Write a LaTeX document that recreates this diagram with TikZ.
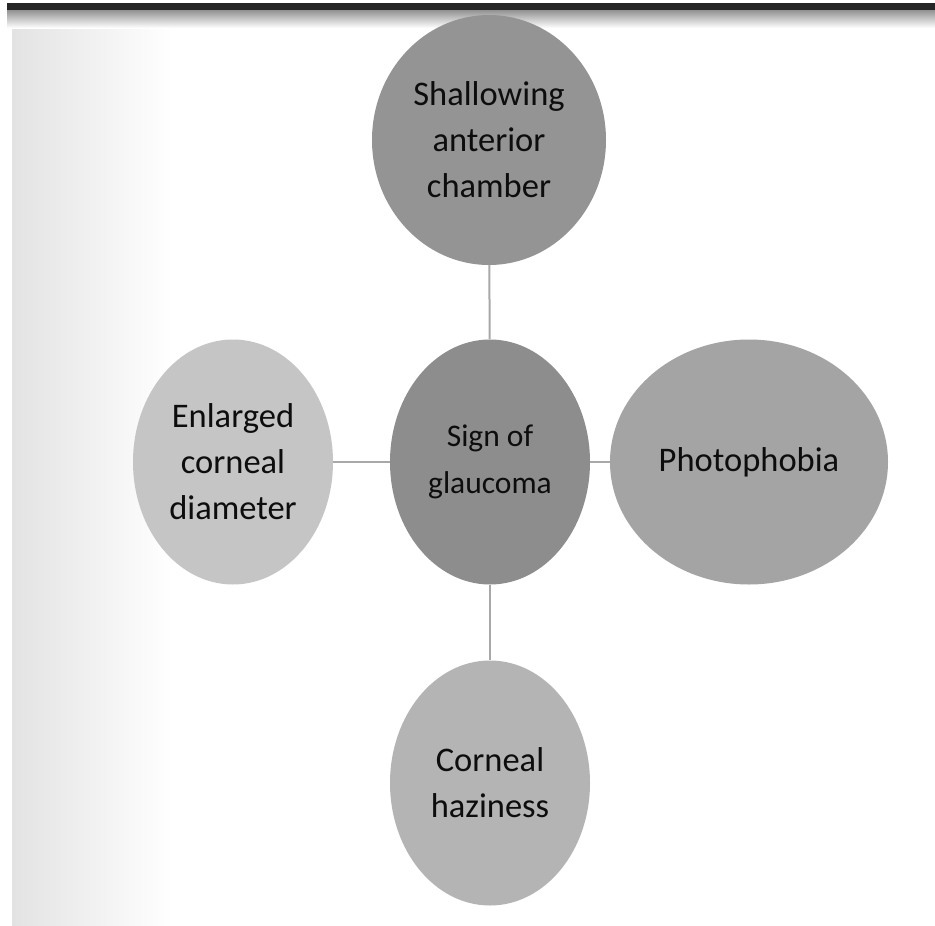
\documentclass[tikz,border=0pt]{standalone}
\usepackage{fontspec}
\setmainfont{Carlito}
\usetikzlibrary{shapes.geometric}

\definecolor{topgray}{HTML}{949494}
\definecolor{midgray}{HTML}{8D8D8D}
\definecolor{leftgray}{HTML}{C5C5C5}
\definecolor{rightgray}{HTML}{A4A4A4}
\definecolor{botgray}{HTML}{B4B4B4}
\definecolor{linkgray}{HTML}{A8A8A8}

\tikzset{
  sign/.style={ellipse, inner sep=0pt, align=center, text=black!95,
    font=\fontsize{34.5}{46}\selectfont, minimum width=200pt, minimum height=245pt},
  link/.style={linkgray, line width=2pt}
}

\begin{document}
\begin{tikzpicture}[x=1pt, y=-1pt]

\useasboundingbox (0,0) rectangle (935,926);
\fill[white] (0,0) rectangle (935,926);
\shade[left color=black!11, right color=white] (12,22) rectangle (172,926);
\shade[top color=black!45, bottom color=white] (7,9) rectangle (935,28);
\fill[black!85] (7,3) rectangle (935,9.5);

\node[sign, fill=topgray, minimum width=234pt, minimum height=250pt] (shallow) at (489,140) {Shallowing\\anterior\\chamber};
\node[sign, fill=midgray, font=\fontsize{31.5}{47}\selectfont] (glaucoma) at (490,462) {Sign of\\glaucoma};
\node[sign, fill=leftgray] (enlarged) at (233,462) {Enlarged\\corneal\\diameter};
\node[sign, fill=rightgray, minimum width=278pt] (photo) at (749,462) {Photophobia};
\node[sign, fill=botgray] (haze) at (490,783) {Corneal\\haziness};

\draw[link] (shallow) -- (glaucoma);
\draw[link] (enlarged) -- (glaucoma);
\draw[link] (glaucoma) -- (photo);
\draw[link] (glaucoma) -- (haze);

\end{tikzpicture}
\end{document}
